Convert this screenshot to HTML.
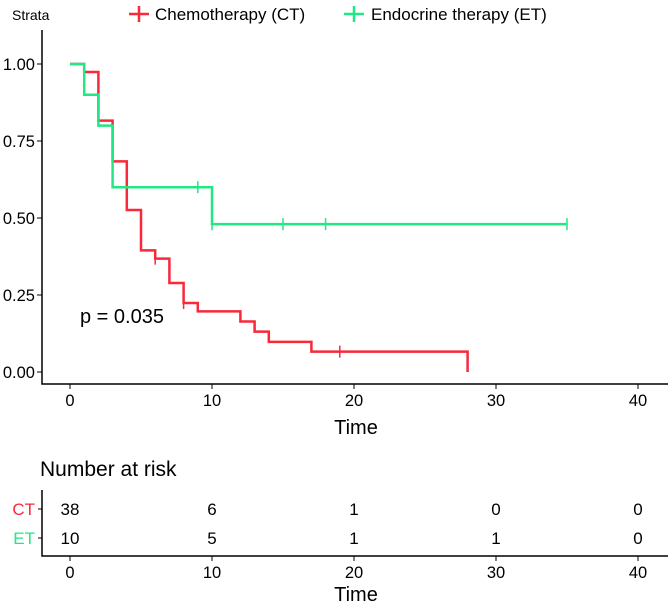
<!DOCTYPE html>
<html><head><meta charset="utf-8"><style>
body{margin:0;background:#fff;}
svg text{font-family:"Liberation Sans",Arial,sans-serif;}
</style></head><body>
<svg width="670" height="604" xmlns="http://www.w3.org/2000/svg">
<g>
<text x="12" y="20" font-size="14" fill="#000">Strata</text>
<g><path d="M129 14H149M139 6V22" stroke="#f8293a" stroke-width="2.5"/><text x="155" y="20" font-size="17">Chemotherapy (CT)</text></g>
<g><path d="M344 14H364M354 6V22" stroke="#22e883" stroke-width="2.5"/><text x="371" y="20" font-size="17">Endocrine therapy (ET)</text></g>
</g>
<g id="main"></g>
<g id="risk"></g>
</svg>
<script>
const timeTicks=[0,10,20,30,40];
const survTicks=[0,0.25,0.5,0.75,1];
const survTickLabels=["0.00","0.25","0.50","0.75","1.00"];
const ctTimes=[0,1,2,3,4,5,6,7,8,9,12,13,14,17,28];
const ctSurv=[1,0.974,0.816,0.684,0.526,0.395,0.368,0.289,0.224,0.197,0.164,0.131,0.098,0.066,0];
const ctCensor=[6,8,19];
const etTimes=[0,1,2,3,10,35];
const etSurv=[1,0.9,0.8,0.6,0.48,0.48];
const etCensor=[9,10,15,18,35];
const riskCT=[38,6,1,0,0];
const riskET=[10,5,1,1,0];
const NS="http://www.w3.org/2000/svg";
const X=t=>70+t*14.2;
const Y=s=>372-s*308;
function mk(p,tag,a,txt){const e=document.createElementNS(NS,tag);for(const k in a)e.setAttribute(k,a[k]);if(txt!==undefined)e.textContent=txt;p.appendChild(e);return e;}
const main=document.getElementById('main');
const ax=mk(main,'path',{d:'M42 30V384H668',fill:'none',stroke:'#000','stroke-width':1.5});


survTicks.forEach((s,i)=>{
 mk(main,'line',{x1:37,x2:42,y1:Y(s),y2:Y(s),stroke:'#000'});
 const t=mk(main,'text',{x:35,y:Y(s)+6,'font-size':16.5,'text-anchor':'end'},survTickLabels[i]);
 
 
});
timeTicks.forEach(v=>{
 mk(main,'line',{x1:X(v),x2:X(v),y1:384,y2:389,stroke:'#000'});
 const t=mk(main,'text',{x:X(v),y:406,'font-size':16.5,'text-anchor':'middle'},v);
 
 
});
const xt=mk(main,'text',{x:356,y:434,'font-size':20,'text-anchor':'middle'},'Time');


const pv=mk(main,'text',{x:80,y:323,'font-size':20},'p = 0.035');


function stepSurv(times,surv){let d='M'+X(times[0])+' '+Y(surv[0]);for(let i=1;i<times.length;i++){d+='H'+X(times[i])+'V'+Y(surv[i]);}return d;}
function survAt(times,surv,t){let s=surv[0];for(let i=0;i<times.length;i++)if(times[i]<=t)s=surv[i];return s;}
function curve(times,surv,cens,col,name){
 const g=mk(main,'g',{});
 
 
 mk(g,'path',{d:stepSurv(times,surv),fill:'none',stroke:col,'stroke-width':2.5});
 cens.forEach(c=>{const y=Y(survAt(times,surv,c));mk(g,'line',{x1:X(c),x2:X(c),y1:y-6,y2:y+6,stroke:col,'stroke-width':1.5});});
}
curve(ctTimes,ctSurv,ctCensor,'#f8293a','curve-ct');
curve(etTimes,etSurv,etCensor,'#22e883','curve-et');
const risk=document.getElementById('risk');
const rt=mk(risk,'text',{x:40,y:476,'font-size':21},'Number at risk');


const rax=mk(risk,'path',{d:'M42 490V556H668',fill:'none',stroke:'#000','stroke-width':1.5});


[['CT',riskCT,509,'#f8293a'],['ET',riskET,538,'#22e883']].forEach(([lab,vals,y,col])=>{
 mk(risk,'line',{x1:38,x2:42,y1:y,y2:y,stroke:'#000'});
 const l=mk(risk,'text',{x:35,y:y+6,'font-size':17,'text-anchor':'end',fill:col},lab);
 
 
 vals.forEach((v,i)=>{const t=mk(risk,'text',{x:X(timeTicks[i]),y:y+6,'font-size':17,'text-anchor':'middle'},v);
 
 });
});
timeTicks.forEach(v=>{
 mk(risk,'line',{x1:X(v),x2:X(v),y1:556,y2:561,stroke:'#000'});
 const t=mk(risk,'text',{x:X(v),y:578,'font-size':16.5,'text-anchor':'middle'},v);
 
 
});
const rxt=mk(risk,'text',{x:356,y:601,'font-size':20,'text-anchor':'middle'},'Time');


</script>
</body></html>
